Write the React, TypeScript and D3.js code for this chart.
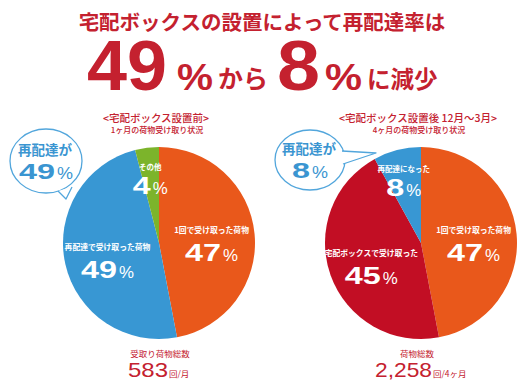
import React from "react";
import * as d3 from "d3";

const TITLE = "宅配ボックスの設置によって再配達率は";
const HEAD_BEFORE = ["<宅配ボックス設置前>", "1ヶ月の荷物受け取り状況"];
const HEAD_AFTER = ["<宅配ボックス設置後 12月～3月>", "4ヶ月の荷物受け取り状況"];
const CATEGORIES_BEFORE = ["1回で受け取った荷物", "再配達で受け取った荷物", "その他"];
const VALUES_BEFORE = [47, 49, 4];
const CATEGORIES_AFTER = ["1回で受け取った荷物", "宅配ボックスで受け取った", "再配達になった"];
const VALUES_AFTER = [47, 45, 8];
const REDELIVERY = [49, 8];
const TOTAL_LABELS = ["受取り荷物総数", "荷物総数"];
const TOTAL_VALUES = [583, 2258];
const TOTAL_UNITS = ["回/月", "回/4ヶ月"];

const COLORS_BEFORE = ["#E9581B", "#3897D3", "#7CB42B"];
const COLORS_AFTER = ["#E9581B", "#C20E24", "#3897D3"];
const RED = "#C4212F";
const BLUE = "#3A95D1";
const JP = "'Noto Sans CJK JP', sans-serif";
const NUM = "'Liberation Sans', 'Noto Sans CJK JP', sans-serif";

function Pct({ x, y, value, fill, size, digitW, pctW, pctSize }: any) {
  const s = String(value);
  const W = digitW * s.length;
  const total = W + 2 + pctW;
  const x0 = x - total / 2;
  return (
    <g fill={fill}>
      <text x={x0} y={y} fontFamily={NUM} fontWeight={700} fontSize={size} textLength={W} lengthAdjust="spacingAndGlyphs">{s}</text>
      <text x={x0 + W + 2} y={y} fontFamily={NUM} fontWeight={400} fontSize={pctSize} textLength={pctW} lengthAdjust="spacingAndGlyphs">%</text>
    </g>
  );
}

function Pie({ cx, cy, r, cats, vals, colors }: any) {
  const data = cats.map((c: string, i: number) => ({ c, v: vals[i], col: colors[i] }));
  const arcs = d3.pie<any>().sort(null).value((d: any) => d.v)(data);
  const arc = d3.arc<any>().innerRadius(0).outerRadius(r);
  return (
    <g transform={`translate(${cx},${cy})`}>
      {arcs.map((a, i) => (
        <path key={i} d={arc(a) as string} fill={a.data.col} />
      ))}
      {arcs.map((a, i) => {
        const big = a.data.v >= 20;
        const lr = big ? 0.55 * r : 0.72 * r;
        const [x, y] = d3.arc<any>().innerRadius(lr).outerRadius(lr).centroid(a);
        const yy = y + (big ? 4 : 2);
        return (
          <g key={"l" + i}>
            <text x={x} y={yy - (big ? 9 : 6)} fill="#fff" textAnchor="middle" fontFamily={JP} fontWeight={700} fontSize={big ? 7.8 : 7.5}>
              {a.data.c}
            </text>
            <Pct x={x} y={yy + (big ? 19 : 18)} value={a.data.v} fill="#fff" size={23} digitW={18} pctW={15} pctSize={16} />
          </g>
        );
      })}
    </g>
  );
}

function Bubble({ cx, cy, rx, ry, tail, value }: any) {
  return (
    <g>
      <ellipse cx={cx} cy={cy} rx={rx} ry={ry} fill="#fff" stroke="#52A6DC" strokeWidth={1.3} />
      <path d={`M${tail[0][0]},${tail[0][1]}L${tail[1][0]},${tail[1][1]}L${tail[2][0]},${tail[2][1]}`} fill="#fff" stroke="#52A6DC" strokeWidth={1.3} strokeLinejoin="round" />
      <text x={cx - 1} y={cy - 6} textAnchor="middle" fontFamily={JP} fontWeight={700} fontSize={13.5} fill={BLUE}>再配達が</text>
      <Pct x={cx} y={cy + 18} value={value} fill={BLUE} size={22} digitW={18} pctW={16} pctSize={16} />
    </g>
  );
}

export default function App() {
  const fmt = d3.format(",");
  return (
    <svg width={529} height={380} style={{ position: "absolute", left: 0, top: 0, background: "#fff" }}>
      <text x={262} y={30} textAnchor="middle" fontFamily={JP} fontWeight={700} fontSize={20.5} fill={RED}>{TITLE}</text>
      <g fill={RED}>
        <text x={87} y={90} fontFamily={NUM} fontWeight={700} fontSize={70} textLength={80} lengthAdjust="spacingAndGlyphs">{REDELIVERY[0]}</text>
        <text x={177} y={90} fontFamily={NUM} fontWeight={700} fontSize={36} textLength={36} lengthAdjust="spacingAndGlyphs">%</text>
        <text x={218} y={88} fontFamily={JP} fontWeight={700} fontSize={25}>から</text>
        <text x={277} y={90} fontFamily={NUM} fontWeight={700} fontSize={70} textLength={43} lengthAdjust="spacingAndGlyphs">{REDELIVERY[1]}</text>
        <text x={325} y={90} fontFamily={NUM} fontWeight={700} fontSize={36} textLength={37} lengthAdjust="spacingAndGlyphs">%</text>
        <text x={367} y={88} fontFamily={JP} fontWeight={700} fontSize={23.5}>に減少</text>
      </g>
      <g fill={RED} textAnchor="middle" fontFamily={JP}>
        <text x={156} y={122} fontSize={10.5} fontWeight={500}>{HEAD_BEFORE[0]}</text>
        <text x={157} y={133} fontSize={8} fontWeight={500}>{HEAD_BEFORE[1]}</text>
        <text x={418} y={122} fontSize={10.5} fontWeight={500}>{HEAD_AFTER[0]}</text>
        <text x={419} y={133} fontSize={8} fontWeight={500}>{HEAD_AFTER[1]}</text>
      </g>
      <Pie cx={159} cy={243} r={96} cats={CATEGORIES_BEFORE} vals={VALUES_BEFORE} colors={COLORS_BEFORE} />
      <Pie cx={421} cy={243} r={96} cats={CATEGORIES_AFTER} vals={VALUES_AFTER} colors={COLORS_AFTER} />
      <Bubble cx={46} cy={161} rx={36} ry={32} tail={[[58, 191], [66, 199], [72, 187]]} value={REDELIVERY[0]} />
      <Bubble cx={310} cy={160} rx={35} ry={30} tail={[[342, 151], [376, 153], [343, 164]]} value={REDELIVERY[1]} />
      {[0, 1].map((i) => {
        const x = i === 0 ? 160 : 417;
        const s = fmt(TOTAL_VALUES[i]);
        const x0 = i === 0 ? 128 : 375;
        const w = i === 0 ? 40 : 57;
        return (
          <g key={i} fill={RED}>
            <text x={x} y={357} textAnchor="middle" fontFamily={JP} fontSize={8.5}>{TOTAL_LABELS[i]}</text>
            <text x={x0} y={377} fontFamily={NUM} fontSize={21} textLength={w} lengthAdjust="spacingAndGlyphs">{s}</text>
            <text x={x0 + w + 1} y={377} fontFamily={JP} fontSize={8.5}>{TOTAL_UNITS[i]}</text>
          </g>
        );
      })}
    </svg>
  );
}
